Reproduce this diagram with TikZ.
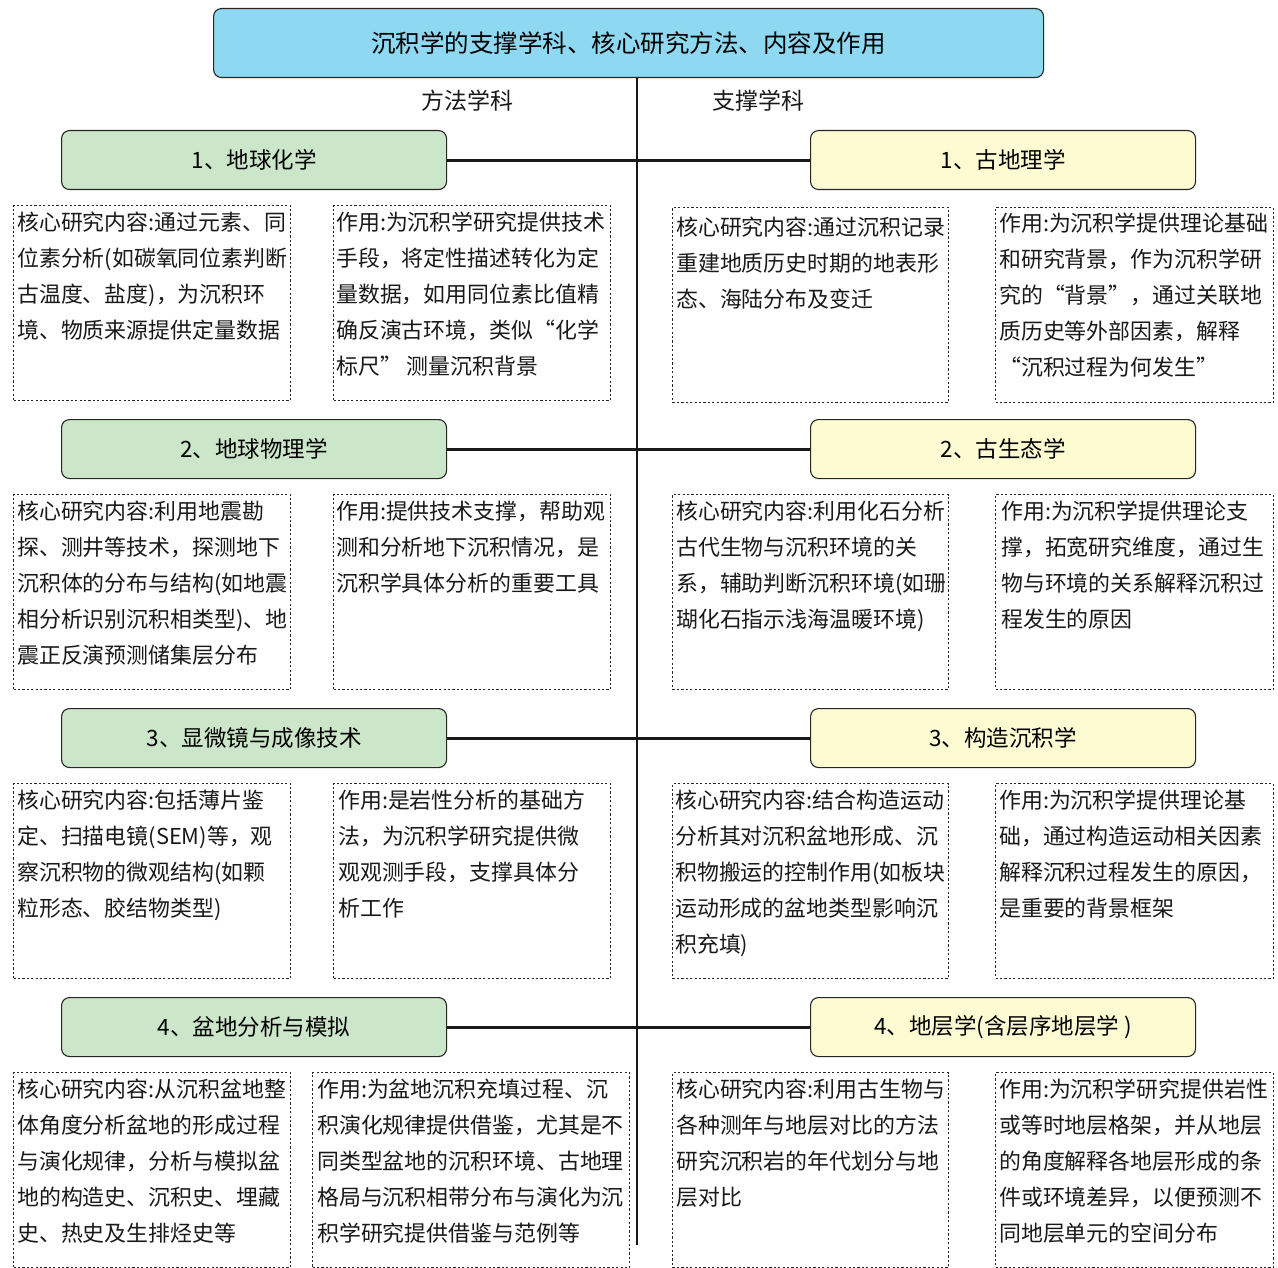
\documentclass[tikz,border=0pt]{standalone}
\usepackage{fontspec}
\setmainfont{Noto Sans CJK SC}
\definecolor{titleblue}{HTML}{8FD8F2}
\definecolor{boxgreen}{HTML}{CCE6C9}
\definecolor{boxyellow}{HTML}{FDFBD2}
\begin{document}
\begin{tikzpicture}[x=1pt,y=-1pt,
  titlebox/.style={draw=black!85, line width=1.1pt, rounded corners=8pt, fill=titleblue,
    minimum width=830pt, minimum height=69pt, anchor=north west,
    font=\fontsize{24.5}{28}\selectfont},
  greenbox/.style={draw=black!85, line width=1.1pt, rounded corners=8pt, fill=boxgreen,
    minimum width=385pt, minimum height=59pt, anchor=north west,
    font=\fontsize{22.5}{26}\selectfont},
  yellowbox/.style={greenbox, fill=boxyellow},
  dotbox/.style={draw=black!85, line width=1pt, dash pattern=on 2.2pt off 2.2pt,
    minimum height=195pt, anchor=north west, inner sep=0pt},
  txt/.style={anchor=north west, inner sep=0pt, align=left,
    font=\fontsize{21.9}{36}\selectfont, text=black!90},
  headtxt/.style={font=\fontsize{23}{26}\selectfont, text=black!90},
  link/.style={line width=3pt, black!90},
  trunk/.style={line width=1.2pt, black!90}
]
\useasboundingbox (0,0) rectangle (1278,1268);

% title
\node[titlebox] (title) at (213,8) {沉积学的支撑学科、核心研究方法、内容及作用};
\coordinate (trunkend) at (637,1245);
\draw[trunk] (title.south -| trunkend) -- (trunkend);

\node[headtxt] (hleft) at (467,101) {方法学科};
\node[headtxt] (hright) at (758,101) {支撑学科};

% ---------- row 1
\node[greenbox] (g1) at (61,130) {1、地球化学};
\node[yellowbox] (y1) at (810,130) {1、古地理学};
\draw[link] (g1.east) -- (y1.west);

\node[dotbox, minimum width=277pt] (b1a) at (13,205) {};
\node[txt] (t1a) at ([shift={(4,7)}]b1a.north west) {核心研究内容:通过元素、同\\位素分析(如碳氧同位素判断\\古温度、盐度)，为沉积环\\境、物质来源提供定量数据};
\node[dotbox, minimum width=277pt] (b1b) at (333,205) {};
\node[txt] (t1b) at ([shift={(3,7)}]b1b.north west) {作用:为沉积学研究提供技术\\手段，将定性描述转化为定\\量数据，如用同位素比值精\\确反演古环境，类似“化学\\标尺” 测量沉积背景};
\node[dotbox, minimum width=276pt] (b1c) at (672,207) {};
\node[txt] (t1c) at ([shift={(4,10)}]b1c.north west) {核心研究内容:通过沉积记录\\重建地质历史时期的地表形\\态、海陆分布及变迁};
\node[dotbox, minimum width=278pt] (b1d) at (995,207) {};
\node[txt] (t1d) at ([shift={(4,6)}]b1d.north west) {作用:为沉积学提供理论基础\\和研究背景，作为沉积学研\\究的“背景”，通过关联地\\质历史等外部因素，解释\\“沉积过程为何发生”};

% ---------- row 2
\node[greenbox] (g2) at (61,419) {2、地球物理学};
\node[yellowbox] (y2) at (810,419) {2、古生态学};
\draw[link] (g2.east) -- (y2.west);

\node[dotbox, minimum width=277pt] (b2a) at (13,494) {};
\node[txt] (t2a) at ([shift={(4,7)}]b2a.north west) {核心研究内容:利用地震勘\\探、测井等技术，探测地下\\沉积体的分布与结构(如地震\\相分析识别沉积相类型)、地\\震正反演预测储集层分布};
\node[dotbox, minimum width=277pt] (b2b) at (333,494) {};
\node[txt] (t2b) at ([shift={(3,7)}]b2b.north west) {作用:提供技术支撑，帮助观\\测和分析地下沉积情况，是\\沉积学具体分析的重要工具};
\node[dotbox, minimum width=276pt] (b2c) at (672,494) {};
\node[txt] (t2c) at ([shift={(4,7)}]b2c.north west) {核心研究内容:利用化石分析\\古代生物与沉积环境的关\\系，辅助判断沉积环境(如珊\\瑚化石指示浅海温暖环境)};
\node[dotbox, minimum width=278pt] (b2d) at (995,494) {};
\node[txt] (t2d) at ([shift={(6,7)}]b2d.north west) {作用:为沉积学提供理论支\\撑，拓宽研究维度，通过生\\物与环境的关系解释沉积过\\程发生的原因};

% ---------- row 3
\node[greenbox] (g3) at (61,708) {3、显微镜与成像技术};
\node[yellowbox] (y3) at (810,708) {3、构造沉积学};
\draw[link] (g3.east) -- (y3.west);

\node[dotbox, minimum width=277pt] (b3a) at (13,783) {};
\node[txt] (t3a) at ([shift={(4,7)}]b3a.north west) {核心研究内容:包括薄片鉴\\定、扫描电镜(SEM)等，观\\察沉积物的微观结构(如颗\\粒形态、胶结物类型)};
\node[dotbox, minimum width=277pt] (b3b) at (333,783) {};
\node[txt] (t3b) at ([shift={(5,7)}]b3b.north west) {作用:是岩性分析的基础方\\法，为沉积学研究提供微\\观观测手段，支撑具体分\\析工作};
\node[dotbox, minimum width=276pt] (b3c) at (672,783) {};
\node[txt] (t3c) at ([shift={(3,7)}]b3c.north west) {核心研究内容:结合构造运动\\分析其对沉积盆地形成、沉\\积物搬运的控制作用(如板块\\运动形成的盆地类型影响沉\\积充填)};
\node[dotbox, minimum width=278pt] (b3d) at (995,783) {};
\node[txt] (t3d) at ([shift={(4,7)}]b3d.north west) {作用:为沉积学提供理论基\\础，通过构造运动相关因素\\解释沉积过程发生的原因，\\是重要的背景框架};

% ---------- row 4
\node[greenbox] (g4) at (61,997) {4、盆地分析与模拟};
\node[yellowbox] (y4) at (810,997) {4、地层学(含层序地层学 )};
\draw[link] (g4.east) -- (y4.west);

\node[dotbox, minimum width=277pt] (b4a) at (13,1072) {};
\node[txt] (t4a) at ([shift={(4,7)}]b4a.north west) {核心研究内容:从沉积盆地整\\体角度分析盆地的形成过程\\与演化规律，分析与模拟盆\\地的构造史、沉积史、埋藏\\史、热史及生排烃史等};
\node[dotbox, minimum width=317pt] (b4b) at (312,1072) {};
\node[txt] (t4b) at ([shift={(5,7)}]b4b.north west) {作用:为盆地沉积充填过程、沉\\积演化规律提供借鉴，尤其是不\\同类型盆地的沉积环境、古地理\\格局与沉积相带分布与演化为沉\\积学研究提供借鉴与范例等};
\node[dotbox, minimum width=276pt] (b4c) at (672,1072) {};
\node[txt] (t4c) at ([shift={(4,7)}]b4c.north west) {核心研究内容:利用古生物与\\各种测年与地层对比的方法\\研究沉积岩的年代划分与地\\层对比};
\node[dotbox, minimum width=278pt] (b4d) at (995,1072) {};
\node[txt] (t4d) at ([shift={(4,7)}]b4d.north west) {作用:为沉积学研究提供岩性\\或等时地层格架，并从地层\\的角度解释各地层形成的条\\件或环境差异，以便预测不\\同地层单元的空间分布};
\end{tikzpicture}
\end{document}
